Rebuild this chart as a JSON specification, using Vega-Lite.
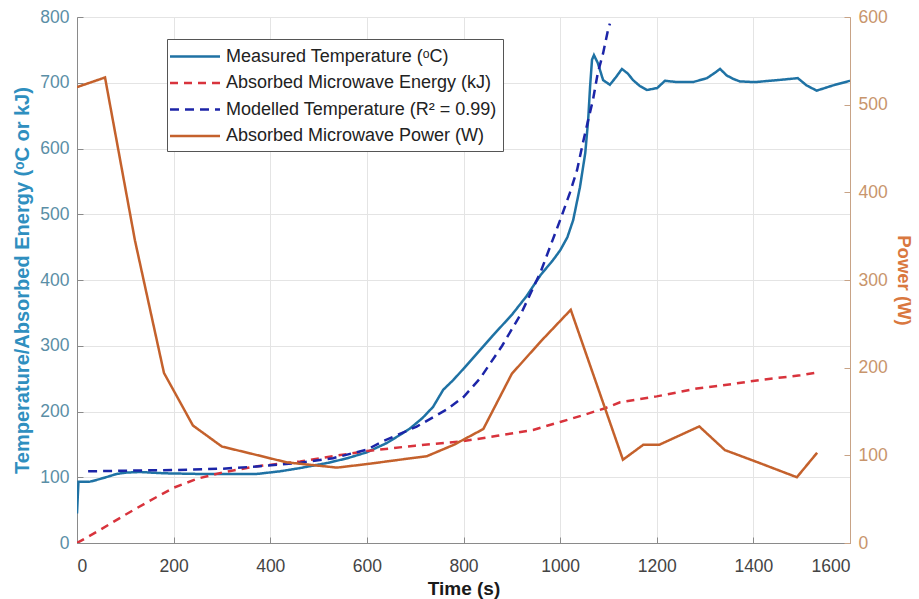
{
  "$schema": "https://vega.github.io/schema/vega-lite/v6.json",
  "width": 773,
  "height": 526,
  "autosize": {"type": "none"},
  "padding": {"left": 77, "top": 17, "right": 69, "bottom": 56},
  "background": "white",
  "config": {
    "view": {"stroke": "#999999", "strokeWidth": 1},
    "font": "Liberation Sans",
    "axis": {
      "labelFont": "Liberation Sans",
      "titleFont": "Liberation Sans",
      "labelFontSize": 17.5,
      "titleFontSize": 18,
      "titleFontWeight": "bold",
      "gridColor": "#e4e4e4",
      "gridWidth": 1,
      "domainColor": "#8a8a8a",
      "tickColor": "#8a8a8a",
      "tickSize": -6,
      "labelPadding": 14
    },
    "legend": {
      "labelFont": "Liberation Sans",
      "labelFontSize": 18,
      "labelColor": "#222222",
      "labelLimit": 0,
      "symbolType": "M-2.5,0H2.5",
      "symbolSize": 400,
      "symbolStrokeWidth": 2.5,
      "symbolOffset": 10.5,
      "strokeColor": "#555555",
      "fillColor": "white",
      "padding": 6,
      "rowPadding": 5.5,
      "labelOffset": 19.5
    }
  },
  "data": {
    "values": [
      {"t": 0, "v": 45, "s": "M"}, {"t": 3, "v": 93, "s": "M"}, {"t": 25, "v": 93, "s": "M"}, {"t": 41, "v": 96, "s": "M"}, {"t": 60, "v": 100, "s": "M"}, {"t": 82, "v": 105, "s": "M"}, {"t": 100, "v": 107, "s": "M"}, {"t": 130, "v": 108, "s": "M"}, {"t": 180, "v": 106, "s": "M"}, {"t": 255, "v": 105, "s": "M"}, {"t": 320, "v": 105, "s": "M"}, {"t": 372, "v": 105, "s": "M"}, {"t": 420, "v": 109, "s": "M"}, {"t": 462, "v": 114, "s": "M"}, {"t": 520, "v": 122, "s": "M"}, {"t": 560, "v": 129, "s": "M"}, {"t": 600, "v": 138, "s": "M"}, {"t": 641, "v": 152, "s": "M"}, {"t": 670, "v": 165, "s": "M"}, {"t": 689, "v": 174, "s": "M"}, {"t": 715, "v": 190, "s": "M"}, {"t": 737, "v": 207, "s": "M"}, {"t": 758, "v": 233, "s": "M"}, {"t": 779, "v": 248, "s": "M"}, {"t": 800, "v": 265, "s": "M"}, {"t": 830, "v": 290, "s": "M"}, {"t": 860, "v": 315, "s": "M"}, {"t": 900, "v": 347, "s": "M"}, {"t": 930, "v": 375, "s": "M"}, {"t": 960, "v": 408, "s": "M"}, {"t": 985, "v": 430, "s": "M"}, {"t": 1000, "v": 445, "s": "M"}, {"t": 1015, "v": 465, "s": "M"}, {"t": 1027, "v": 491, "s": "M"}, {"t": 1041, "v": 541, "s": "M"}, {"t": 1052, "v": 593, "s": "M"}, {"t": 1058, "v": 643, "s": "M"}, {"t": 1062, "v": 694, "s": "M"}, {"t": 1066, "v": 735, "s": "M"}, {"t": 1070, "v": 742, "s": "M"}, {"t": 1078, "v": 730, "s": "M"}, {"t": 1089, "v": 704, "s": "M"}, {"t": 1103, "v": 697, "s": "M"}, {"t": 1115, "v": 708, "s": "M"}, {"t": 1128, "v": 721, "s": "M"}, {"t": 1140, "v": 714, "s": "M"}, {"t": 1151, "v": 704, "s": "M"}, {"t": 1165, "v": 695, "s": "M"}, {"t": 1180, "v": 689, "s": "M"}, {"t": 1201, "v": 692, "s": "M"}, {"t": 1217, "v": 703, "s": "M"}, {"t": 1242, "v": 701, "s": "M"}, {"t": 1275, "v": 701, "s": "M"}, {"t": 1304, "v": 707, "s": "M"}, {"t": 1320, "v": 715, "s": "M"}, {"t": 1331, "v": 721, "s": "M"}, {"t": 1345, "v": 711, "s": "M"}, {"t": 1358, "v": 706, "s": "M"}, {"t": 1372, "v": 702, "s": "M"}, {"t": 1403, "v": 701, "s": "M"}, {"t": 1450, "v": 704, "s": "M"}, {"t": 1492, "v": 707, "s": "M"}, {"t": 1510, "v": 696, "s": "M"}, {"t": 1531, "v": 688, "s": "M"}, {"t": 1565, "v": 696, "s": "M"}, {"t": 1600, "v": 703, "s": "M"},
      {"t": 0, "v": 0, "s": "E"}, {"t": 48, "v": 20, "s": "E"}, {"t": 100, "v": 43, "s": "E"}, {"t": 150, "v": 64, "s": "E"}, {"t": 200, "v": 84, "s": "E"}, {"t": 250, "v": 98, "s": "E"}, {"t": 300, "v": 107, "s": "E"}, {"t": 365, "v": 116, "s": "E"}, {"t": 462, "v": 124, "s": "E"}, {"t": 530, "v": 132, "s": "E"}, {"t": 600, "v": 140, "s": "E"}, {"t": 700, "v": 148, "s": "E"}, {"t": 800, "v": 155, "s": "E"}, {"t": 870, "v": 163, "s": "E"}, {"t": 944, "v": 172, "s": "E"}, {"t": 1000, "v": 184, "s": "E"}, {"t": 1050, "v": 195, "s": "E"}, {"t": 1093, "v": 205, "s": "E"}, {"t": 1124, "v": 214, "s": "E"}, {"t": 1200, "v": 223, "s": "E"}, {"t": 1283, "v": 235, "s": "E"}, {"t": 1358, "v": 242, "s": "E"}, {"t": 1414, "v": 248, "s": "E"}, {"t": 1497, "v": 255, "s": "E"}, {"t": 1530, "v": 259, "s": "E"},
      {"t": 23, "v": 109, "s": "D"}, {"t": 100, "v": 110, "s": "D"}, {"t": 200, "v": 111, "s": "D"}, {"t": 300, "v": 113, "s": "D"}, {"t": 365, "v": 116, "s": "D"}, {"t": 462, "v": 122, "s": "D"}, {"t": 530, "v": 129, "s": "D"}, {"t": 600, "v": 142, "s": "D"}, {"t": 634, "v": 155, "s": "D"}, {"t": 703, "v": 177, "s": "D"}, {"t": 765, "v": 203, "s": "D"}, {"t": 800, "v": 222, "s": "D"}, {"t": 834, "v": 250, "s": "D"}, {"t": 880, "v": 300, "s": "D"}, {"t": 920, "v": 350, "s": "D"}, {"t": 960, "v": 413, "s": "D"}, {"t": 1000, "v": 491, "s": "D"}, {"t": 1020, "v": 532, "s": "D"}, {"t": 1035, "v": 567, "s": "D"}, {"t": 1047, "v": 608, "s": "D"}, {"t": 1058, "v": 643, "s": "D"}, {"t": 1068, "v": 674, "s": "D"}, {"t": 1078, "v": 715, "s": "D"}, {"t": 1089, "v": 745, "s": "D"}, {"t": 1099, "v": 780, "s": "D"}, {"t": 1103, "v": 790, "s": "D"},
      {"t": 0, "v": 520, "s": "P"}, {"t": 58, "v": 531, "s": "P"}, {"t": 120, "v": 345, "s": "P"}, {"t": 180, "v": 194, "s": "P"}, {"t": 240, "v": 134, "s": "P"}, {"t": 300, "v": 110, "s": "P"}, {"t": 360, "v": 102, "s": "P"}, {"t": 434, "v": 92, "s": "P"}, {"t": 538, "v": 86, "s": "P"}, {"t": 600, "v": 90, "s": "P"}, {"t": 668, "v": 95, "s": "P"}, {"t": 724, "v": 99, "s": "P"}, {"t": 780, "v": 112, "s": "P"}, {"t": 841, "v": 130, "s": "P"}, {"t": 900, "v": 193, "s": "P"}, {"t": 960, "v": 230, "s": "P"}, {"t": 1022, "v": 266, "s": "P"}, {"t": 1130, "v": 95, "s": "P"}, {"t": 1172, "v": 112, "s": "P"}, {"t": 1205, "v": 112, "s": "P"}, {"t": 1288, "v": 133, "s": "P"}, {"t": 1341, "v": 106, "s": "P"}, {"t": 1414, "v": 91, "s": "P"}, {"t": 1490, "v": 75, "s": "P"}, {"t": 1532, "v": 103, "s": "P"}
    ]
  },
  "layer": [
    {
      "transform": [{"filter": "datum.s !== 'P'"}],
      "mark": {"type": "line", "strokeWidth": 2.5, "clip": true},
      "encoding": {
        "x": {
          "field": "t", "type": "quantitative",
          "scale": {"domain": [0, 1600], "nice": false},
          "axis": {
            "title": "Time (s)", "values": [0, 200, 400, 600, 800, 1000, 1200, 1400, 1600], "format": "d",
            "labelColor": "#444444", "titleColor": "#1a1a1a", "titleFontSize": 19, "titlePadding": 5, "grid": true,
            "labelPadding": 20
          }
        },
        "y": {
          "field": "v", "type": "quantitative",
          "scale": {"domain": [0, 800], "nice": false},
          "axis": {
            "title": "Temperature/Absorbed Energy (ᵒC or kJ)", "orient": "left",
            "values": [0, 100, 200, 300, 400, 500, 600, 700, 800],
            "labelColor": "#5a8ea6", "titleColor": "#2f8fbf", "titleFontSize": 20, "titlePadding": 7, "grid": true
          }
        },
        "color": {
          "field": "s", "type": "nominal",
          "scale": {"domain": ["M", "E", "D", "P"], "range": ["#1f72a4", "#d8333c", "#1c25a8", "#c4612c"]},
          "legend": {
            "title": null, "orient": "none", "legendX": 90, "legendY": 22,
            "labelExpr": "{'M': 'Measured Temperature (ᵒC)', 'E': 'Absorbed Microwave Energy (kJ)', 'D': 'Modelled Temperature (R² = 0.99)', 'P': 'Absorbed Microwave Power (W)'}[datum.value]"
          }
        },
        "strokeDash": {
          "field": "s", "type": "nominal",
          "scale": {"domain": ["M", "E", "D", "P"], "range": [[1, 0], [8, 6], [9, 6], [1, 0]]},
          "legend": {
            "title": null, "orient": "none", "legendX": 90, "legendY": 22,
            "labelExpr": "{'M': 'Measured Temperature (ᵒC)', 'E': 'Absorbed Microwave Energy (kJ)', 'D': 'Modelled Temperature (R² = 0.99)', 'P': 'Absorbed Microwave Power (W)'}[datum.value]"
          }
        }
      }
    },
    {
      "transform": [{"filter": "datum.s === 'P'"}],
      "mark": {"type": "line", "strokeWidth": 2.5, "clip": true},
      "encoding": {
        "x": {"field": "t", "type": "quantitative", "scale": {"domain": [0, 1600], "nice": false}},
        "y": {
          "field": "v", "type": "quantitative",
          "scale": {"domain": [0, 600], "nice": false},
          "axis": {
            "title": "Power (W)", "orient": "right",
            "values": [0, 100, 200, 300, 400, 500, 600],
            "labelColor": "#c8956c", "titleColor": "#d9783f", "domainColor": "#c8a386", "tickColor": "#c8a386",
            "titleFontSize": 18.5, "titlePadding": 6, "grid": false
          }
        },
        "color": {"field": "s", "type": "nominal", "scale": {"domain": ["M", "E", "D", "P"]}},
        "strokeDash": {"field": "s", "type": "nominal", "scale": {"domain": ["M", "E", "D", "P"]}}
      }
    }
  ],
  "resolve": {"scale": {"y": "independent"}, "axis": {"y": "independent"}}
}
